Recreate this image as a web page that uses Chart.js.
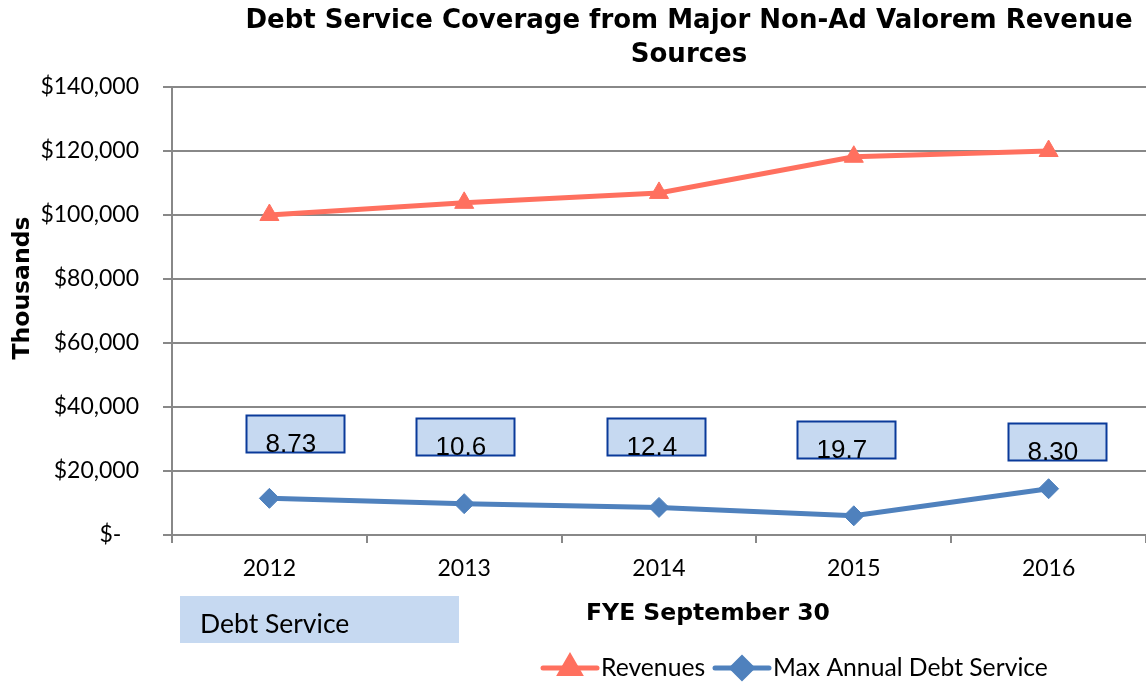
<!DOCTYPE html>
<html>
<head>
<meta charset="utf-8">
<script src="https://cdn.jsdelivr.net/npm/chart.js@4.4.0/dist/chart.umd.min.js"></script>
<style>
  html,body{margin:0;padding:0;background:#fff;}
  #wrap{width:1146px;height:685px;position:relative;}
</style>
</head>
<body>
<div id="wrap"><canvas id="c" width="1146" height="685"></canvas></div>
<script>
/* ---------- data ---------- */
const years        =['2012','2013','2014','2015','2016'];
const revenues     =[100000,103800,106900,118200,120000];
const maxDebtSvc   =[11455,9790,8620,6000,14460];
const coverage     =['8.73','10.6','12.4','19.7','8.30'];
const titleLines   =['Debt Service Coverage from Major Non-Ad Valorem Revenue','Sources'];

/* layout of the coverage call-outs (px offset from category, top in data units) */
const boxDx =[26,1,-3,-8,8];
const boxTop=[37500,36550,36550,35600,35000];

const RED='#FF705F', BLUE='#4F81BD';
const SANS='Lato, "Open Sans", sans-serif';
const BOLD='"DejaVu Sans", Verdana, sans-serif';

function money(v){
  if(v===0) return '$-   ';
  return '$'+v.toLocaleString('en-US');
}

/* ---------- overlay plugin ---------- */
const overlay={
  id:'overlay',
  afterDatasetsDraw(chart){
    const {ctx,scales:{x,y}}=chart;
    ctx.save();
    // coverage boxes
    coverage.forEach((t,i)=>{
      const cx=x.getPixelForValue(i)+boxDx[i], top=y.getPixelForValue(boxTop[i]);
      const w=98,h=37,l=Math.round(cx-w/2)+.5,tp=Math.round(top)+.5;
      ctx.fillStyle='#C6D9F1';ctx.fillRect(l,tp,w,h);
      ctx.strokeStyle='#0A3A9A';ctx.lineWidth=2;ctx.strokeRect(l,tp,w,h);
      ctx.fillStyle='#000';ctx.font='26px "Liberation Sans", Arial, sans-serif';
      ctx.textAlign='left';ctx.textBaseline='alphabetic';
      ctx.fillText(t,l+19,tp+h-1);
    });
    ctx.restore();
  },
  afterDraw(chart){
    const {ctx}=chart;
    ctx.save();
    ctx.fillStyle='#000';
    // title
    ctx.font='bold 26px '+BOLD;ctx.textAlign='center';ctx.textBaseline='middle';
    ctx.fillText(titleLines[0],689,21);
    ctx.fillText(titleLines[1],689,55);
    // axis titles
    ctx.font='bold 23.5px '+BOLD;
    ctx.fillText('FYE September 30',708,614);
    ctx.save();ctx.translate(23,288);ctx.rotate(-Math.PI/2);
    ctx.fillText('Thousands',0,0);ctx.restore();
    // "Debt Service" label block
    ctx.fillStyle='#C6D9F1';ctx.fillRect(180,596,279,47);
    ctx.fillStyle='#000';ctx.font='26.5px '+SANS;ctx.textAlign='left';ctx.textBaseline='alphabetic';
    ctx.fillText('Debt Service',200,633);
    // legend
    const items=[{ds:chart.data.datasets[0],x:543},{ds:chart.data.datasets[1],x:715}];
    const ly=668;
    items.forEach(it=>{
      const d=it.ds;
      ctx.strokeStyle=d.borderColor;ctx.lineWidth=5;ctx.lineCap='round';
      ctx.beginPath();ctx.moveTo(it.x,ly);ctx.lineTo(it.x+54,ly);ctx.stroke();
      Chart.helpers.drawPoint(ctx,{pointStyle:d.pointStyle,radius:d.pointRadius,rotation:0,borderWidth:1},it.x+27,ly);
      ctx.fillStyle=d.backgroundColor;ctx.fill();
      ctx.fillStyle='#000';ctx.font='24.7px '+SANS;ctx.textAlign='left';ctx.textBaseline='middle';
      ctx.fillText(d.label,it.x+58,ly);
    });
    ctx.restore();
  }
};

/* ---------- chart ---------- */
new Chart(document.getElementById('c'),{
  type:'line',
  data:{labels:years,datasets:[
    {label:'Revenues',data:revenues,borderColor:RED,backgroundColor:RED,borderWidth:5,
     pointStyle:'triangle',pointRadius:11,pointBorderWidth:1,tension:0},
    {label:'Max Annual Debt Service',data:maxDebtSvc,borderColor:BLUE,backgroundColor:BLUE,borderWidth:5,
     pointStyle:'rectRot',pointRadius:10,pointBorderWidth:1,tension:0}
  ]},
  options:{
    responsive:false,animation:false,
    layout:{autoPadding:false,padding:{top:87,right:0,bottom:0,left:0}},
    plugins:{legend:{display:false},title:{display:false},tooltip:{enabled:false}},
    scales:{
      x:{offset:true,
         grid:{offset:true,drawOnChartArea:false,drawTicks:true,tickLength:8,color:'#888',lineWidth:2},
         border:{display:true,color:'#888',width:2},
         ticks:{color:'#000',font:{family:SANS,size:23},padding:12},
         afterFit:s=>{s.height=150;s.paddingLeft=0;s.paddingRight=0;}},
      y:{min:0,max:140000,
         grid:{color:'#888',lineWidth:2,tickLength:9},
         border:{display:true,color:'#888',width:2},
         ticks:{stepSize:20000,color:'#000',font:{family:SANS,size:23},padding:24,callback:v=>money(v)},
         afterFit:s=>{s.width=172;s.paddingTop=0;s.paddingBottom=0;}}
    }
  },
  plugins:[overlay]
});
</script>
</body>
</html>
